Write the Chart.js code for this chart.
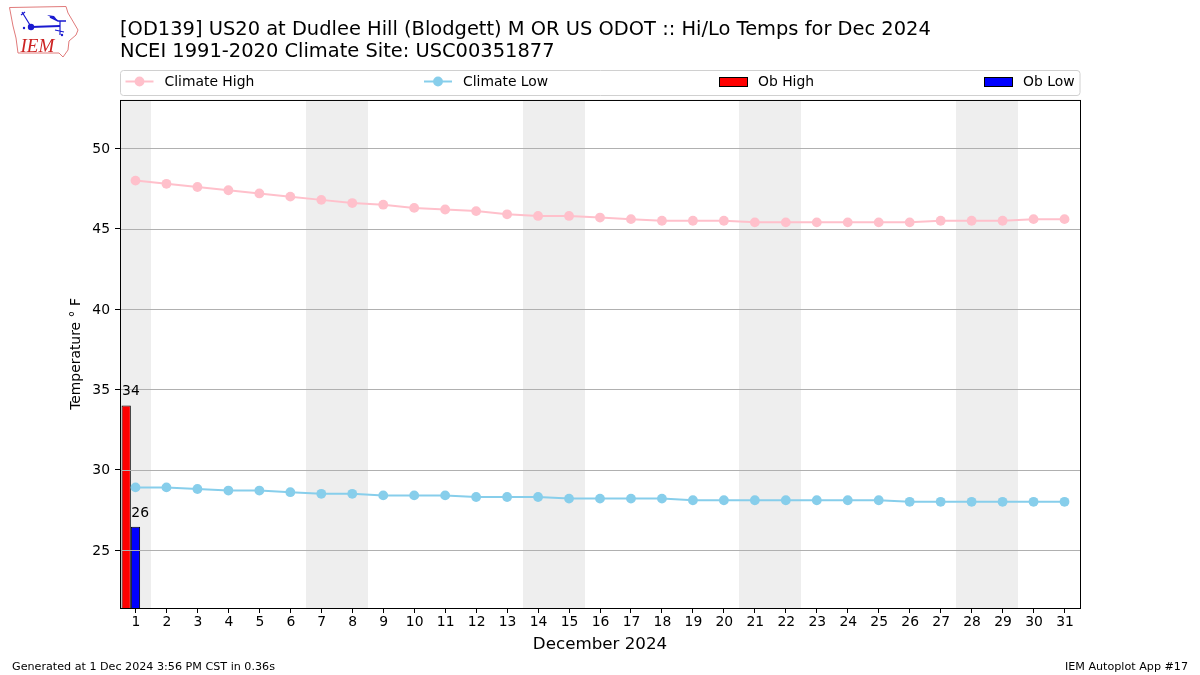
<!DOCTYPE html>
<html>
<head>
<meta charset="utf-8">
<title>Hi/Lo Temps for Dec 2024</title>
<script src="https://cdn.jsdelivr.net/npm/chart.js@4"></script>
<style>
  html, body { margin: 0; padding: 0; background: #fff; }
  #wrap { position: relative; width: 1200px; height: 675px; }
  #logo { position: absolute; left: 0; top: 0; }
</style>
</head>
<body>
<div id="wrap">
  <canvas id="chart" width="1200" height="675"></canvas>
  <svg id="logo" width="90" height="62" viewBox="0 0 90 62">
    <path d="M9.5 7.5 L66 6.5 L68 13 L71 18 L78 30 L76 35 L69 41 L68 50 L63 57 L59 53 L18 53 L16 38 L13 26 Z" fill="#fff" stroke="#e07a7a" stroke-width="1"/>
    <g stroke="#1a1ad0" fill="none">
      <path d="M31 27 L60 26" stroke-width="2"/>
      <path d="M22 12 L30 25 M21 15 L25 12" stroke-width="1.2"/>
      <path d="M50 17 L58 21 L66 21" stroke-width="1.5"/>
      <path d="M60 21 L60 35 M55 30 L64 32" stroke-width="1.2"/>
    </g>
    <circle cx="31" cy="27" r="3.2" fill="#1a1ad0"/>
    <path d="M47 15 L54 16 L58 21 Z" fill="#1a1ad0"/>
    <circle cx="24" cy="28" r="1.2" fill="#1a1ad0"/>
    <circle cx="62" cy="35" r="1.2" fill="#1a1ad0"/>
    <text x="20.5" y="52" font-family="Liberation Serif" font-style="italic" font-size="19" fill="#cc2222">IEM</text>
  </svg>
</div>
<script>
const FONT = '"DejaVu Sans"'

const days = ['1', '2', '3', '4', '5', '6', '7', '8', '9', '10', '11', '12', '13', '14', '15', '16',
  '17', '18', '19', '20', '21', '22', '23', '24', '25', '26', '27', '28', '29', '30', '31']
const climateHigh = [48, 47.8, 47.6, 47.4, 47.2, 47, 46.8, 46.6, 46.5, 46.3, 46.2, 46.1, 45.9, 45.8, 45.8, 45.7,
  45.6, 45.5, 45.5, 45.5, 45.4, 45.4, 45.4, 45.4, 45.4, 45.4, 45.5, 45.5, 45.5, 45.6, 45.6]
const climateLow = [28.9, 28.9, 28.8, 28.7, 28.7, 28.6, 28.5, 28.5, 28.4, 28.4, 28.4, 28.3, 28.3, 28.3, 28.2, 28.2,
  28.2, 28.2, 28.1, 28.1, 28.1, 28.1, 28.1, 28.1, 28.1, 28, 28, 28, 28, 28, 28]
const obHigh = [34]
const obLow = [26.45]
const weekendDays = ['1', '7', '8', '14', '15', '21', '22', '28', '29']
const yTicks = [25, 30, 35, 40, 45, 50]

// x position of each legend handle, same order as the datasets
const legendX = [125.5, 424, 719, 984]

// weekend bands and the y grid sit under the lines, but the grid goes over the bars like in the original
const backdrop = {
  id: 'backdrop',
  beforeDatasetsDraw(chart) {
    const { ctx, chartArea: a, scales: { x } } = chart
    ctx.save()
    ctx.fillStyle = '#eeeeee'
    weekendDays.forEach(d => {
      const i = days.indexOf(d)
      const left = Math.round(Math.max(a.left, x.getPixelForValue(i - 0.5)))
      const right = Math.round(x.getPixelForValue(i + 0.5))
      ctx.fillRect(left, a.top, right - left, a.height)
    })
    ctx.restore()
  },
  beforeDatasetDraw(chart, args) {
    if (args.index !== 1) return // lowest line dataset is drawn right after the bars
    const { ctx, chartArea: a, scales: { y } } = chart
    ctx.save()
    ctx.strokeStyle = '#b0b0b0'
    ctx.lineWidth = 1
    yTicks.forEach(v => {
      const py = Math.round(y.getPixelForValue(v)) + 0.5
      ctx.beginPath()
      ctx.moveTo(a.left, py)
      ctx.lineTo(a.right, py)
      ctx.stroke()
    })
    ctx.restore()
  }
}

const decorations = {
  id: 'decorations',
  afterDatasetsDraw(chart) {
    const { ctx, chartArea: a } = chart
    ctx.save()

    // bar value labels
    ctx.fillStyle = '#000'
    ctx.font = '13.9px ' + FONT
    ctx.textAlign = 'left'
    ctx.textBaseline = 'alphabetic'
    ;[2, 3].forEach(idx => {
      const bar = chart.getDatasetMeta(idx).data[0]
      const value = chart.data.datasets[idx].data[0]
      ctx.fillText(Math.round(value), bar.x - bar.width / 2 + 0.5, bar.y - 10)
    })

    // frame
    ctx.strokeStyle = '#000'
    ctx.lineWidth = 1
    ctx.strokeRect(a.left + 0.5, a.top + 0.5, a.width, a.height)

    // legend box
    ctx.strokeStyle = '#d0d0d0'
    ctx.beginPath()
    ctx.roundRect(120.5, 70.5, 959.5, 25, 3)
    ctx.stroke()

    const midY = 81.5
    chart.data.datasets.forEach((ds, i) => {
      if (!ds.label) return
      const hx = legendX[i]
      if (ds.type === 'line') {
        ctx.strokeStyle = ds.borderColor
        ctx.lineWidth = 2
        ctx.beginPath()
        ctx.moveTo(hx, midY)
        ctx.lineTo(hx + 28, midY)
        ctx.stroke()
        ctx.fillStyle = ds.borderColor
        ctx.beginPath()
        ctx.arc(hx + 14, midY, 4.9, 0, Math.PI * 2)
        ctx.fill()
      } else {
        ctx.fillStyle = ds.backgroundColor
        ctx.fillRect(hx, 77, 28, 9)
        ctx.strokeStyle = '#000'
        ctx.lineWidth = 1
        ctx.strokeRect(hx + 0.5, 77.5, 28, 9)
      }
      ctx.fillStyle = '#000'
      ctx.font = '13.9px ' + FONT
      ctx.textBaseline = 'alphabetic'
      ctx.textAlign = 'left'
      ctx.fillText(ds.label, hx + 39, 86)
    })

    // footer
    ctx.font = '11.15px ' + FONT
    ctx.fillStyle = '#000'
    ctx.fillText('Generated at 1 Dec 2024 3:56 PM CST in 0.36s', 12, 670)
    ctx.textAlign = 'right'
    ctx.fillText('IEM Autoplot App #17', 1188, 670)
    ctx.restore()
  }
}

new Chart(document.getElementById('chart'), {
  type: 'bar',
  plugins: [backdrop, decorations],
  data: {
    labels: days,
    datasets: [
      {
        type: 'line',
        label: 'Climate High',
        data: climateHigh,
        borderColor: '#ffc0cb',
        backgroundColor: '#ffc0cb',
        borderWidth: 2,
        pointRadius: 4.9,
        pointBorderWidth: 0,
        tension: 0,
        order: 0
      },
      {
        type: 'line',
        label: 'Climate Low',
        data: climateLow,
        borderColor: '#87ceeb',
        backgroundColor: '#87ceeb',
        borderWidth: 2,
        pointRadius: 4.9,
        pointBorderWidth: 0,
        tension: 0,
        order: 1
      },
      {
        label: 'Ob High',
        data: obHigh,
        backgroundColor: '#ff0000',
        borderColor: '#000',
        borderWidth: 1,
        categoryPercentage: 0.9,
        barPercentage: 1,
        order: 2
      },
      {
        label: 'Ob Low',
        data: obLow,
        backgroundColor: '#0000ff',
        borderColor: '#000',
        borderWidth: 1,
        categoryPercentage: 0.9,
        barPercentage: 1,
        order: 3
      },
      // empty third slot, keeps Ob Low centred on the tick and Ob High to its left
      {
        label: '',
        data: [],
        categoryPercentage: 0.9,
        barPercentage: 1,
        order: 4
      }
    ]
  },
  options: {
    responsive: false,
    animation: false,
    layout: { padding: { left: 0, top: 0, right: 120, bottom: 0 } },
    font: { family: FONT },
    plugins: {
      legend: { display: false },
      tooltip: { enabled: false },
      title: {
        display: true,
        align: 'start',
        fullSize: false,
        text: ['[OD139] US20 at Dudlee Hill (Blodgett) M OR US ODOT :: Hi/Lo Temps for Dec 2024',
          'NCEI 1991-2020 Climate Site: USC00351877'],
        color: '#000',
        font: { family: FONT, size: 19.45, weight: 'normal', lineHeight: 1.12 },
        padding: { top: 19, bottom: 37.4 }
      }
    },
    scales: {
      x: {
        type: 'category',
        offset: true,
        afterFit(scale) { scale.height = 67 },
        grid: { display: true, offset: false, drawOnChartArea: false, drawTicks: true, tickLength: 5, tickColor: '#000' },
        border: { display: false },
        ticks: { color: '#000', autoSkip: false, maxRotation: 0, padding: 1, labelOffset: 0.5, font: { family: FONT, size: 13.9 } },
        title: {
          display: true,
          text: 'December 2024',
          color: '#000',
          font: { family: FONT, size: 16.7 },
          padding: { top: 8, bottom: 20 }
        }
      },
      y: {
        type: 'linear',
        min: 21.39,
        max: 53.02,
        afterFit(scale) { scale.width = 120 },
        afterBuildTicks(scale) { scale.ticks = yTicks.map(v => ({ value: v })) },
        grid: { display: true, drawOnChartArea: false, drawTicks: true, tickLength: 5, tickColor: '#000' },
        border: { display: false },
        ticks: { color: '#000', padding: 5, labelOffset: 1, font: { family: FONT, size: 13.9 } },
        title: {
          display: true,
          text: 'Temperature ° F',
          color: '#000',
          font: { family: FONT, size: 13.9 },
          padding: { top: 68, bottom: 0 }
        }
      }
    }
  }
})
</script>
</body>
</html>
